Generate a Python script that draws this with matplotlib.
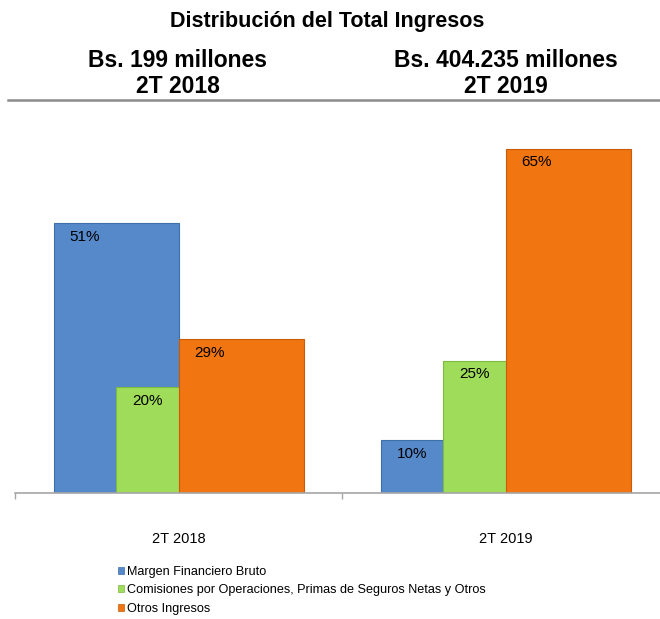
import numpy as np
import matplotlib.pyplot as plt
from matplotlib.patches import Patch
from matplotlib.lines import Line2D

plt.rcParams['font.family'] = ['Liberation Sans', 'DejaVu Sans']

categories = ['2T 2018', '2T 2019']
totals = ['Bs. 199 millones', 'Bs. 404.235 millones']
series_names = ['Margen Financiero Bruto',
                'Comisiones por Operaciones, Primas de Seguros Netas y Otros',
                'Otros Ingresos']
margen = [51, 10]
comisiones = [20, 25]
otros = [29, 65]
colors = ['#5589CA', '#9EDC5A', '#F17511']
edges = ['#3F6FA8', '#7DB83F', '#C85C08']

W, H = 660, 619
fig = plt.figure(figsize=(W / 100, H / 100), dpi=100)

# axes: baseline at y=493px, category slots 327px wide starting at x=15
slot = 327.0
ax = fig.add_axes([15 / W, 1 - 493 / H, 645 / W, 371 / H])
x = np.arange(len(categories))
width = 125 / slot
offsets = [-width / 2, 0, width / 2]

for vals, off, c, ec in zip([margen, comisiones, otros], offsets, colors, edges):
    bars = ax.bar(x + off, vals, width, color=c, edgecolor=ec, linewidth=0.8)
    for b, v in zip(bars, vals):
        ax.annotate(f'{v}%', (b.get_x() + b.get_width() / 4, v),
                    xytext=(0, -7), textcoords='offset pixels',
                    ha='center', va='top', fontsize=11)

for s in ['top', 'right', 'left']:
    ax.spines[s].set_visible(False)
ax.spines['bottom'].set_color('#A6A6A6')
ax.spines['bottom'].set_linewidth(1.2)
ax.set_yticks([])
ax.set_xticks(x)
ax.set_xticklabels(categories, fontsize=10.5)
ax.tick_params(axis='x', which='major', length=0, pad=28)
ax.set_xticks([-0.5, 0.5, 1.5], minor=True)
ax.tick_params(axis='x', which='minor', length=4, color='#A6A6A6', width=1)
# limits after ticks, since set_xticks can widen the view
ax.set_xlim(-0.5, -0.5 + 645 / slot)
ax.set_ylim(0, 70)

# header texts
fig.text(327 / W, 1 - 27 / H, 'Distribución del Total Ingresos',
         ha='center', va='baseline', fontsize=15.5, fontweight='bold')
for cx, tot, cat in zip([178, 506], totals, categories):
    fig.text(cx / W, 1 - 67 / H, tot, ha='center', va='baseline',
             fontsize=16.5, fontweight='bold')
    fig.text(cx / W, 1 - 93 / H, cat, ha='center', va='baseline',
             fontsize=16.5, fontweight='bold')
fig.add_artist(Line2D([8 / W, 1], [1 - 100 / H, 1 - 100 / H],
                      color='#8C8C8C', linewidth=1.8, transform=fig.transFigure))

handles = [Patch(facecolor=c, edgecolor=ec, linewidth=0.5) for c, ec in zip(colors, edges)]
fig.legend(handles, series_names, loc='upper left',
           bbox_to_anchor=(118 / W, 1 - 566 / H), frameon=False,
           fontsize=9.1, handlelength=0.5, handleheight=0.5,
           handletextpad=0.2, labelspacing=0.5, borderaxespad=0,
           borderpad=0)

fig.savefig('out.png', dpi=100)
